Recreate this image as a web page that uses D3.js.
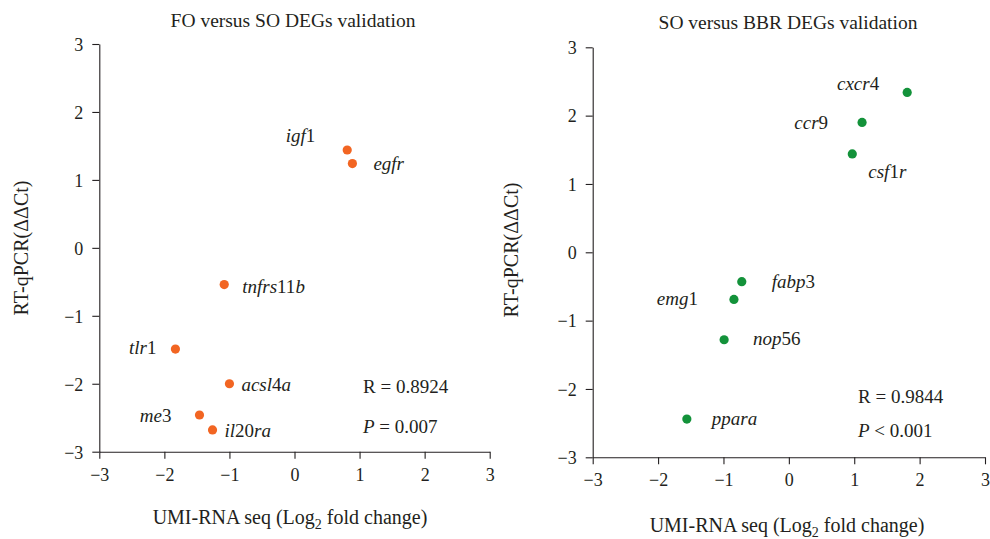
<!DOCTYPE html>
<html>
<head>
<meta charset="utf-8">
<script src="https://cdn.jsdelivr.net/npm/d3@7"></script>
<style>
  body { margin: 0; background: #fff; }
  svg text { font-family: "Liberation Serif", "DejaVu Serif", serif; fill: #231f20; }
</style>
</head>
<body>
<svg id="chart" width="990" height="539"></svg>
<script>
// FO versus SO panel
const foGenes = ['igf1', 'egfr', 'tnfrs11b', 'tlr1', 'acsl4a', 'me3', 'il20ra'];
const foSeq   = [0.81, 0.89, -1.08, -1.83, -1.00, -1.46, -1.26];
const foQpcr  = [1.44, 1.24, -0.54, -1.49, -2.00, -2.46, -2.68];
const foStats = ['R = 0.8924', '= 0.007'];

// SO versus BBR panel
const soGenes = ['cxcr4', 'ccr9', 'csf1r', 'fabp3', 'emg1', 'nop56', 'ppara'];
const soSeq   = [1.81, 1.12, 0.97, -0.72, -0.84, -0.99, -1.56];
const soQpcr  = [2.34, 1.90, 1.44, -0.43, -0.69, -1.28, -2.44];
const soStats = ['R = 0.9844', '< 0.001'];

const axisTicks = [-3, -2, -1, 0, 1, 2, 3];
const panelTitles = ['FO versus SO DEGs validation', 'SO versus BBR DEGs validation'];

// label placement relative to the dot: [dx, dy, anchor]
const labelOffset = {
  igf1: [-32, -8, 'end'], egfr: [21, 6, 'start'], tnfrs11b: [18, 8, 'start'],
  tlr1: [-19, 5, 'end'], acsl4a: [12, 7, 'start'], me3: [-28, 7, 'end'], il20ra: [12, 7, 'start'],
  cxcr4: [-28, -2, 'end'], ccr9: [-34, 7, 'end'], csf1r: [16, 24, 'start'],
  fabp3: [30, 6, 'start'], emg1: [-36, 6, 'end'], nop56: [29, 5, 'start'], ppara: [25, 6, 'start']
};

const svg = d3.select('#chart');
const serif = '"Liberation Serif", "DejaVu Serif", serif';

function geneLabel(sel, name) {
  // letters italic, digits upright
  name.split(/(\d+)/).filter(s => s.length).forEach(part => {
    sel.append('tspan')
      .style('font-style', /^\d+$/.test(part) ? 'normal' : 'italic')
      .text(part);
  });
}

function drawPanel(p) {
  const x = d3.scaleLinear().domain([-3, 3]).range([p.left, p.right]);
  const y = d3.scaleLinear().domain([-3, 3]).range([p.bottom, p.top]);
  const g = svg.append('g');
  const fmt = d3.format('d');

  const xAxis = g.append('g')
    .attr('transform', `translate(0,${p.bottom})`)
    .call(d3.axisBottom(x).tickValues(axisTicks).tickFormat(fmt)
      .tickSizeInner(7).tickSizeOuter(0).tickPadding(6));
  const yAxis = g.append('g')
    .attr('transform', `translate(${p.left},0)`)
    .call(d3.axisLeft(y).tickValues(axisTicks).tickFormat(fmt)
      .tickSizeInner(7).tickSizeOuter(0).tickPadding(9));
  [xAxis, yAxis].forEach(a => {
    a.attr('font-family', serif).attr('font-size', 18);
    a.selectAll('path, line').attr('stroke', '#231f20').attr('stroke-width', 1.1);
    a.selectAll('text').attr('fill', '#231f20').style('font-size', '18px');
  });
  xAxis.selectAll('text').attr('dy', '0.9em');
  yAxis.selectAll('text').attr('dy', '0.35em');

  g.append('text')
    .attr('x', p.titleX).attr('y', p.titleY)
    .attr('text-anchor', 'middle')
    .style('font-size', '19.5px')
    .text(p.title);

  const xt = g.append('text')
    .attr('x', p.xTitleX).attr('y', p.xTitleY)
    .attr('text-anchor', 'middle')
    .style('font-size', '20px');
  xt.append('tspan').text('UMI-RNA seq (Log');
  xt.append('tspan').attr('dy', 5).style('font-size', '14px').text('2');
  xt.append('tspan').attr('dy', -5).text(' fold change)');

  g.append('text')
    .attr('transform', `translate(${p.yTitleX},${p.yTitleY}) rotate(-90)`)
    .attr('text-anchor', 'middle')
    .style('font-size', '20px')
    .text('RT-qPCR(ΔΔCt)');

  const pts = p.genes.map((name, i) => ({ name, sx: p.seq[i], qy: p.qpcr[i] }));

  g.selectAll('circle')
    .data(pts)
    .enter().append('circle')
    .attr('cx', d => x(d.sx))
    .attr('cy', d => y(d.qy))
    .attr('r', 4.6)
    .attr('fill', p.color);

  g.selectAll('.gene')
    .data(pts)
    .enter().append('text')
    .attr('class', 'gene')
    .attr('x', d => x(d.sx) + labelOffset[d.name][0])
    .attr('y', d => y(d.qy) + labelOffset[d.name][1])
    .attr('text-anchor', d => labelOffset[d.name][2])
    .style('font-size', '19px')
    .each(function (d) { geneLabel(d3.select(this), d.name); });

  g.append('text')
    .attr('x', p.statX).attr('y', p.statY1)
    .style('font-size', '19px')
    .text(p.stats[0]);
  const pt = g.append('text')
    .attr('x', p.statX).attr('y', p.statY2)
    .style('font-size', '19px');
  pt.append('tspan').style('font-style', 'italic').text('P');
  pt.append('tspan').text(' ' + p.stats[1]);
}

drawPanel({
  left: 99.3, right: 489.7, top: 44, bottom: 451.7,
  title: panelTitles[0], titleX: 293, titleY: 27,
  xTitleX: 290, xTitleY: 524, yTitleX: 28, yTitleY: 248,
  genes: foGenes, seq: foSeq, qpcr: foQpcr, stats: foStats,
  statX: 363, statY1: 393, statY2: 433, color: '#f26522'
});

drawPanel({
  left: 592.7, right: 985, top: 47.3, bottom: 457.3,
  title: panelTitles[1], titleX: 788, titleY: 29,
  xTitleX: 787, xTitleY: 532, yTitleX: 518, yTitleY: 250,
  genes: soGenes, seq: soSeq, qpcr: soQpcr, stats: soStats,
  statX: 858, statY1: 403, statY2: 437, color: '#13923a'
});
</script>
</body>
</html>
